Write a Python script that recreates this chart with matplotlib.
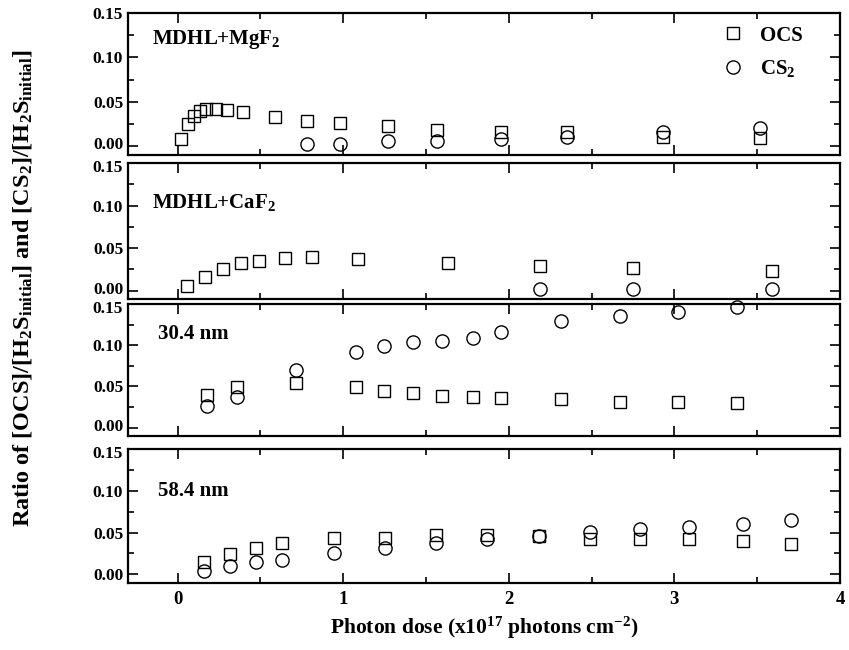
import matplotlib
matplotlib.use("Agg")
import matplotlib.pyplot as plt
from matplotlib.ticker import MultipleLocator, FormatStrFormatter
from matplotlib.transforms import ScaledTranslation

plt.rcParams['font.family'] = ['Liberation Serif', 'DejaVu Serif']
plt.rcParams['font.weight'] = 'bold'
plt.rcParams['mathtext.fontset'] = 'custom'
plt.rcParams['mathtext.rm'] = 'Liberation Serif:bold'
plt.rcParams['mathtext.it'] = 'Liberation Serif:bold'
plt.rcParams['mathtext.bf'] = 'Liberation Serif:bold'

# Panel 1: MDHL+MgF2
mg_ocs_x = [0.02, 0.062, 0.098, 0.132, 0.174, 0.23, 0.295, 0.394, 0.588, 0.782, 0.979, 1.271, 1.567, 1.955, 2.35, 2.93, 3.516]
mg_ocs_y = [0.0081, 0.025, 0.0344, 0.0397, 0.0417, 0.0417, 0.0405, 0.0385, 0.0332, 0.028, 0.0263, 0.0223, 0.0182, 0.0162, 0.0154, 0.0101, 0.0093]
mg_cs2_x = [0.782, 0.979, 1.271, 1.567, 1.955, 2.35, 2.93, 3.516]
mg_cs2_y = [0.002, 0.002, 0.0053, 0.0061, 0.0085, 0.0101, 0.0154, 0.0203]

# Panel 2: MDHL+CaF2
ca_ocs_x = [0.056, 0.166, 0.273, 0.38, 0.49, 0.65, 0.813, 1.091, 1.634, 2.19, 2.748, 3.592]
ca_ocs_y = [0.0053, 0.0166, 0.0255, 0.032, 0.0353, 0.038, 0.039, 0.0369, 0.0324, 0.0288, 0.0271, 0.0231]
ca_cs2_x = [2.19, 2.748, 3.592]
ca_cs2_y = [0.0016, 0.002, 0.002]

# Panel 3: 30.4 nm
n30_ocs_x = [0.177, 0.357, 0.714, 1.075, 1.249, 1.423, 1.598, 1.781, 1.955, 2.318, 2.67, 3.024, 3.378]
n30_ocs_y = [0.0396, 0.0498, 0.0547, 0.0489, 0.044, 0.042, 0.0383, 0.0371, 0.0363, 0.0351, 0.031, 0.0306, 0.0298]
n30_cs2_x = [0.177, 0.357, 0.714, 1.075, 1.249, 1.423, 1.598, 1.781, 1.955, 2.318, 2.67, 3.024, 3.378]
n30_cs2_y = [0.0257, 0.0375, 0.0701, 0.0918, 0.0991, 0.104, 0.1056, 0.1093, 0.1166, 0.1289, 0.1358, 0.1399, 0.1464]

# Panel 4: 58.4 nm
n58_x = [0.16, 0.318, 0.475, 0.633, 0.942, 1.252, 1.561, 1.871, 2.18, 2.49, 2.793, 3.09, 3.414, 3.707]
n58_ocs_y = [0.0142, 0.0248, 0.0313, 0.0373, 0.0434, 0.0438, 0.0475, 0.0471, 0.0463, 0.0426, 0.0418, 0.0418, 0.0394, 0.0369]
n58_cs2_y = [0.0041, 0.0101, 0.015, 0.0175, 0.0256, 0.0317, 0.0373, 0.0426, 0.0459, 0.0507, 0.054, 0.0568, 0.0609, 0.0653]

panel_labels = ['MDHL+MgF$_2$', 'MDHL+CaF$_2$', '30.4 nm', '58.4 nm']
x_ticks = [0, 1, 2, 3, 4]
y_ticks = [0.00, 0.05, 0.10, 0.15]

panels = [
    (mg_ocs_x, mg_ocs_y, mg_cs2_x, mg_cs2_y),
    (ca_ocs_x, ca_ocs_y, ca_cs2_x, ca_cs2_y),
    (n30_ocs_x, n30_ocs_y, n30_cs2_x, n30_cs2_y),
    (n58_x, n58_ocs_y, n58_x, n58_cs2_y),
]

fig = plt.figure(figsize=(8.49, 6.5), dpi=100)
left, width = 128 / 849, (840 - 128) / 849
bounds_px = [(13, 155), (163, 299.3), (304, 436), (449.3, 582.7)]
label_pos = [(-0.155, 0.81), (-0.155, 0.71), (-0.12, 0.77), (-0.12, 0.69)]

for i, ((ox, oy, cx, cy), lab, (top, bot)) in enumerate(zip(panels, panel_labels, bounds_px)):
    ax = fig.add_axes([left, 1 - bot / 650, width, (bot - top) / 650])
    ax.plot(ox, oy, ls='none', marker='s', ms=8.5, mfc='none', mec='black', mew=1.0, label='OCS', clip_on=False)
    ax.plot(cx, cy, ls='none', marker='o', ms=9.5, mfc='none', mec='black', mew=1.0, label='CS$_2$', clip_on=False)
    ax.set_xlim(-0.3, 4.0)
    ax.set_ylim(-0.0101, 0.15)
    ax.set_xticks(x_ticks)
    ax.set_yticks(y_ticks)
    ax.xaxis.set_minor_locator(MultipleLocator(0.5))
    ax.yaxis.set_minor_locator(MultipleLocator(0.025))
    ax.yaxis.set_major_formatter(FormatStrFormatter('%.2f'))
    ax.tick_params(which='both', direction='in', top=True, right=True, width=1.2, labelsize=12.5)
    ax.tick_params(which='major', length=7)
    ax.tick_params(which='minor', length=4)
    ax.tick_params(axis='x', pad=6, labelsize=13.5)
    for sp in ax.spines.values():
        sp.set_linewidth(1.6)
    if i < 3:
        ax.tick_params(labelbottom=False)
    ylabels = ax.get_yticklabels()
    for t in ylabels + ax.get_xticklabels():
        t.set_fontweight('bold')
    # nudge crowded labels between stacked panels apart
    if i > 0:
        ylabels[-1].set_transform(ylabels[-1].get_transform() + ScaledTranslation(0, -3 / 100, fig.dpi_scale_trans))
    if i < 3:
        ylabels[0].set_transform(ylabels[0].get_transform() + ScaledTranslation(0, 3 / 100, fig.dpi_scale_trans))
    lx, ly = label_pos[i]
    ax.text((lx + 0.3) / 4.3, ly, lab, transform=ax.transAxes,
            fontsize=15, fontweight='bold', va='center', ha='left')
    if i == 0:
        ax.legend(loc='upper right', bbox_to_anchor=(0.96, 0.97), frameon=False,
                  prop={'size': 15, 'weight': 'bold'}, handletextpad=0.8,
                  labelspacing=0.6, handlelength=1.0, borderaxespad=0.0)

fig.text(left + width / 2, 0.034, 'Photon dose (x10$^{17}$ photons cm$^{-2}$)',
         ha='center', va='center', fontsize=15.5, fontweight='bold')
fig.text(0.027, 1 - 288 / 650, 'Ratio of [OCS]/[H$_2$S$_{initial}$] and [CS$_2$]/[H$_2$S$_{initial}$]',
         rotation=90, ha='center', va='center', fontsize=17.5, fontweight='bold')

fig.savefig('out.png', dpi=100)
